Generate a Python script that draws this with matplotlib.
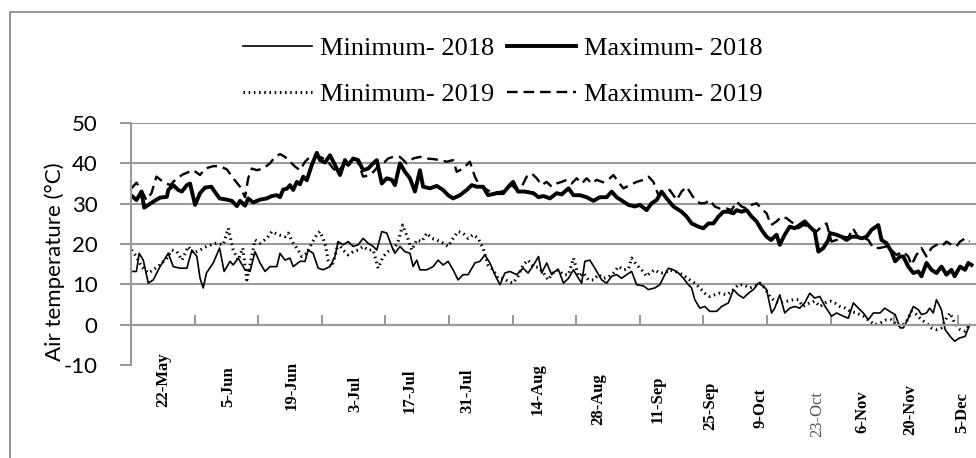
import matplotlib
matplotlib.use('Agg')
import matplotlib.pyplot as plt
import matplotlib.transforms as mtransforms
from matplotlib.patches import Rectangle
from matplotlib.ticker import MultipleLocator

plt.rcParams['axes.unicode_minus'] = False

# day 0 = 15 May
day_max18 = [0.1, 1.2, 2.3, 2.9, 4.9, 6.4, 7.9, 8.2, 9.3, 10.4, 11.2, 12.3, 13.0, 14.1, 15.2, 16.3, 17.7, 18.4, 19.5, 21.1,
             22.2, 23.3, 24.0, 25.1, 25.8, 26.9, 28.4, 29.9, 31.0, 32.1, 32.8, 33.5, 34.3, 35.0, 35.7, 36.5, 37.2, 37.9, 38.7, 39.8,
             40.9, 41.6, 42.7, 43.8, 44.9, 46.0, 47.1, 47.8, 48.9, 50.0, 51.1, 52.2, 53.3, 54.1, 55.2, 56.3, 57.4, 58.1, 59.2, 60.3,
             61.4, 62.5, 63.6, 64.3, 65.8, 67.3, 68.7, 69.8, 70.9, 72.4, 73.9, 75.0, 76.1, 77.5, 78.6, 80.5, 81.9, 83.4, 84.1, 85.2,
             86.7, 88.6, 89.7, 90.8, 92.2, 93.7, 94.8, 96.3, 97.4, 98.8, 100.3, 101.8, 103.2, 104.7, 105.8, 106.9, 108.4, 109.5, 110.9, 112.0,
             113.5, 114.6, 115.7, 116.8, 117.9, 119.4, 121.2, 122.3, 123.4, 124.9, 126.0, 127.1, 128.2, 129.3, 130.4, 131.5, 132.6, 133.3, 134.4, 135.5,
             136.6, 137.7, 138.8, 139.9, 140.9, 142.1, 142.8, 143.9, 145.0, 146.1, 147.2, 148.3, 149.4, 150.5, 151.3, 152.4, 153.5, 153.9, 155.3, 156.4,
             157.5, 158.6, 159.7, 160.8, 161.9, 163.0, 164.5, 165.2, 166.3, 167.4, 168.2, 169.3, 170.0, 171.1, 172.2, 173.3, 174.0, 175.1, 176.2, 177.3,
             178.4, 179.5, 180.6, 181.3, 182.5, 183.6, 184.3, 185.0]
max18 = [32.0, 30.9, 33.0, 29.0, 30.5, 31.5, 31.7, 33.4, 34.6, 33.4, 33.0, 34.6, 35.0, 29.7, 32.6, 34.0, 34.2, 33.0, 31.3, 31.0,
         30.7, 29.4, 30.7, 29.5, 31.3, 30.3, 31.0, 31.3, 31.9, 32.1, 31.6, 33.5, 33.7, 34.6, 33.4, 35.4, 34.8, 36.7, 35.8, 39.6,
         42.6, 40.8, 40.2, 42.0, 39.6, 37.1, 40.8, 39.6, 41.2, 40.8, 38.3, 38.7, 40.0, 40.8, 35.0, 36.3, 35.9, 34.6, 40.0, 37.9,
         36.3, 33.0, 38.3, 34.2, 33.8, 34.4, 33.4, 32.1, 31.3, 32.1, 33.4, 34.6, 34.2, 34.2, 32.1, 32.6, 32.6, 34.6, 35.4, 33.0,
         33.0, 32.6, 31.6, 31.9, 31.3, 32.6, 32.3, 33.8, 32.1, 32.1, 31.6, 30.7, 31.6, 31.6, 33.0, 31.6, 30.5, 29.7, 29.3, 29.7,
         28.4, 30.1, 30.9, 33.0, 31.3, 29.3, 28.0, 26.8, 25.1, 24.3, 23.9, 25.1, 25.1, 26.8, 28.0, 28.0, 27.6, 28.4, 28.0, 28.4,
         26.8, 25.6, 23.5, 21.8, 21.0, 22.3, 19.8, 22.3, 24.3, 23.9, 24.7, 25.6, 24.3, 23.1, 18.1, 19.0, 21.0, 22.7, 22.3, 21.8,
         21.0, 21.8, 21.8, 21.4, 21.8, 23.5, 24.7, 21.0, 20.2, 18.1, 15.7, 16.9, 16.9, 14.4, 12.8, 13.2, 12.0, 15.3, 13.6, 12.8,
         14.4, 12.4, 13.6, 12.0, 14.4, 13.6, 15.3, 14.8]

day_max19 = [0.1, 1.2, 2.3, 3.4, 4.5, 5.6, 7.1, 8.6, 10.1, 11.5, 13.7, 15.2, 16.3, 18.1, 19.5, 21.1, 22.5, 24.0, 25.1, 25.8,
             26.6, 27.7, 29.1, 30.6, 31.7, 32.8, 33.9, 35.0, 36.1, 37.2, 38.3, 39.4, 40.5, 41.6, 43.1, 44.5, 45.6, 46.7, 48.2, 49.7,
             51.1, 52.6, 53.7, 54.8, 55.9, 56.6, 57.7, 59.2, 60.7, 62.1, 63.6, 65.1, 66.9, 68.0, 69.5, 70.9, 71.7, 73.1, 74.6, 75.7,
             76.8, 77.9, 79.0, 80.5, 81.6, 82.7, 83.8, 84.9, 86.0, 87.1, 88.2, 89.3, 90.4, 91.5, 92.6, 93.7, 94.8, 95.9, 97.0, 98.1,
             99.2, 100.3, 101.4, 102.5, 103.9, 105.4, 106.2, 107.3, 108.4, 109.8, 111.3, 112.8, 113.9, 115.0, 116.1, 117.2, 118.6, 120.1, 121.2, 122.3,
             123.7, 125.2, 126.3, 127.4, 128.5, 129.6, 131.1, 132.2, 133.3, 134.4, 135.5, 136.6, 137.7, 138.8, 139.9, 140.9, 142.1, 143.2, 144.3, 145.8,
             146.9, 148.0, 149.4, 150.9, 152.0, 153.1, 154.2, 155.3, 156.8, 157.9, 158.9, 160.0, 161.2, 162.3, 163.4, 164.8, 166.3, 167.4, 168.5, 169.9,
             171.1, 171.8, 172.9, 174.0, 175.1, 176.2, 177.3, 178.4, 179.5, 180.6, 181.7, 182.5, 183.6, 184.6]
max19 = [33.8, 35.2, 33.4, 30.9, 32.6, 36.7, 35.4, 34.6, 36.3, 37.3, 38.3, 37.1, 38.7, 39.3, 39.3, 38.5, 36.3, 34.2, 31.6, 36.3,
         38.7, 38.3, 38.7, 40.0, 41.6, 42.3, 41.6, 40.4, 39.2, 38.3, 40.4, 41.6, 42.0, 41.6, 40.8, 38.7, 37.9, 39.6, 40.8, 41.0,
         36.7, 37.1, 38.3, 40.0, 40.4, 41.2, 41.6, 41.6, 40.0, 41.2, 41.6, 41.2, 41.0, 40.8, 40.4, 40.8, 37.9, 38.7, 40.4, 36.7,
         34.2, 33.8, 33.0, 32.8, 33.0, 33.4, 34.6, 33.4, 34.2, 36.7, 37.5, 36.3, 34.6, 35.4, 34.2, 35.0, 35.4, 35.9, 35.0, 36.3,
         35.0, 36.3, 35.0, 35.9, 35.3, 36.3, 37.1, 35.3, 33.8, 34.6, 35.4, 35.9, 36.7, 35.4, 32.1, 32.6, 33.4, 30.9, 33.0, 34.2,
         31.7, 30.1, 30.1, 30.9, 29.3, 28.8, 28.8, 28.4, 30.5, 29.3, 28.8, 29.7, 30.1, 28.8, 27.6, 24.7, 25.6, 26.8, 26.4, 25.1,
         23.9, 24.7, 24.3, 23.1, 24.3, 25.1, 20.6, 21.0, 21.8, 21.6, 23.9, 21.8, 21.6, 21.0, 19.0, 19.0, 19.4, 18.5, 17.3, 18.1,
         16.9, 14.8, 17.3, 19.0, 16.9, 19.0, 19.8, 19.4, 20.6, 19.8, 19.4, 20.6, 21.4, 20.6]

day_min18 = [0.1, 1.2, 1.8, 2.7, 3.8, 4.9, 6.4, 8.2, 9.3, 10.8, 12.3, 13.4, 14.5, 15.2, 15.9, 16.6, 18.1, 19.5, 20.5, 21.8,
             22.5, 23.6, 25.1, 26.2, 27.3, 28.4, 29.5, 30.6, 32.1, 32.8, 33.9, 35.0, 35.7, 37.2, 38.3, 39.0, 40.1, 41.2, 42.3, 43.8,
             44.9, 45.6, 46.7, 47.8, 48.9, 50.0, 51.1, 52.2, 53.3, 54.1, 55.2, 56.3, 57.4, 58.1, 59.2, 60.3, 61.4, 62.1, 62.9, 63.6,
             65.1, 66.5, 67.6, 68.7, 69.8, 70.9, 72.0, 73.1, 74.2, 75.7, 76.8, 77.9, 79.0, 80.1, 81.2, 82.3, 83.4, 84.9, 86.3, 87.4,
             88.6, 89.7, 90.4, 91.5, 92.6, 93.3, 94.1, 95.2, 96.3, 97.4, 98.5, 99.2, 99.9, 101.0, 102.1, 103.6, 104.7, 105.8, 106.9, 108.0,
             109.1, 110.2, 111.3, 112.8, 113.9, 115.3, 116.4, 117.5, 118.3, 119.4, 120.5, 121.6, 122.7, 123.4, 124.1, 125.2, 126.3, 127.4, 128.9, 130.0,
             131.5, 132.6, 133.7, 134.8, 135.9, 137.0, 138.1, 139.2, 139.9, 141.0, 141.7, 142.8, 143.9, 145.0, 146.1, 147.2, 148.3, 149.4, 150.5, 151.6,
             152.8, 154.2, 155.3, 156.8, 157.9, 159.0, 160.1, 161.2, 162.3, 163.4, 164.9, 165.9, 167.0, 168.2, 169.3, 170.0, 171.1, 172.2, 173.3, 174.0,
             175.1, 175.8, 176.6, 177.3, 178.4, 179.2, 180.3, 181.3, 182.4, 183.6, 184.6]
min18 = [13.2, 13.2, 17.7, 16.0, 10.3, 11.1, 14.4, 17.7, 14.4, 14.0, 14.0, 18.5, 16.9, 11.5, 9.1, 12.8, 15.3, 19.0, 13.2, 15.7,
         14.8, 16.5, 13.6, 13.2, 18.1, 15.3, 13.2, 14.4, 14.4, 17.7, 16.0, 16.5, 14.4, 15.7, 15.7, 18.5, 17.7, 14.0, 13.6, 14.4,
         16.9, 20.6, 19.8, 20.6, 19.4, 19.8, 21.4, 20.2, 19.4, 18.5, 23.1, 22.7, 19.4, 17.7, 19.4, 18.1, 17.7, 14.4, 16.0, 13.6,
         13.6, 14.4, 16.0, 14.8, 15.7, 13.6, 11.1, 12.4, 12.4, 15.3, 15.7, 17.3, 15.3, 12.4, 9.9, 12.8, 13.2, 12.4, 14.0, 12.8,
         14.8, 16.9, 12.8, 15.3, 12.4, 13.2, 13.6, 10.3, 11.5, 13.6, 11.5, 10.3, 15.7, 16.0, 14.0, 11.1, 10.3, 12.0, 12.4, 11.5,
         12.4, 13.2, 9.9, 9.6, 8.7, 9.1, 9.9, 12.4, 14.0, 13.6, 12.8, 11.5, 9.9, 9.1, 6.2, 4.1, 4.5, 3.3, 3.3, 4.5,
         5.4, 8.7, 7.4, 6.6, 7.8, 8.7, 10.3, 9.5, 8.7, 2.9, 4.1, 7.4, 2.9, 4.1, 4.5, 4.1, 5.4, 7.8, 6.6, 7.0,
         4.5, 2.1, 2.9, 2.1, 1.6, 5.4, 4.1, 2.9, 1.2, 2.9, 2.9, 4.1, 3.3, 2.5, -0.8, -0.8, 1.6, 4.5, 3.7, 2.5,
         2.9, 4.1, 2.9, 6.2, 3.7, -1.2, -2.9, -4.1, -3.3, -2.9, 0.0]

day_min19 = [0.1, 1.2, 2.3, 3.8, 4.9, 6.4, 7.9, 9.0, 10.1, 11.2, 11.9, 12.6, 13.7, 15.2, 16.6, 18.8, 20.3, 21.4, 22.5, 23.6,
             24.6, 25.5, 26.6, 27.3, 28.4, 29.9, 31.0, 32.4, 33.9, 34.6, 35.7, 36.8, 37.6, 38.7, 39.8, 40.9, 41.6, 42.7, 43.4, 44.2,
             44.9, 45.6, 46.7, 47.8, 48.9, 50.0, 51.1, 52.2, 53.3, 54.4, 55.5, 56.6, 57.7, 58.8, 59.8, 60.8, 61.8, 62.9, 64.0, 65.1,
             66.2, 67.3, 68.7, 69.8, 70.9, 72.0, 73.1, 74.2, 75.3, 76.4, 77.5, 78.6, 79.7, 80.8, 81.9, 83.0, 84.1, 85.2, 86.3, 87.4,
             88.6, 89.7, 90.8, 91.8, 92.9, 94.0, 95.2, 96.3, 97.4, 98.5, 99.6, 100.7, 101.8, 102.9, 104.0, 105.1, 106.2, 107.3, 108.4, 109.5,
             110.2, 111.3, 112.4, 113.5, 114.2, 115.3, 116.4, 117.5, 118.6, 119.7, 120.8, 121.9, 123.0, 124.1, 125.2, 126.3, 127.4, 128.5, 129.6, 131.1,
             132.2, 133.7, 134.8, 136.2, 137.3, 138.4, 139.5, 140.6, 141.7, 142.8, 144.3, 145.8, 146.9, 147.9, 149.4, 150.5, 151.7, 152.8, 153.9, 154.9,
             156.1, 157.2, 158.3, 159.7, 161.2, 162.7, 163.8, 164.9, 166.3, 167.4, 168.5, 169.6, 170.7, 171.8, 172.9, 174.0, 175.1, 176.2, 177.3, 178.4,
             179.5, 180.3, 181.3, 182.5, 183.6, 184.6]
min19 = [18.5, 16.9, 14.4, 12.8, 13.6, 14.8, 16.5, 18.5, 18.1, 16.0, 17.7, 19.4, 17.7, 18.5, 19.4, 20.2, 19.8, 23.9, 18.5, 16.0,
         19.0, 11.1, 16.9, 21.0, 20.2, 21.4, 23.1, 22.3, 21.8, 22.7, 20.2, 18.5, 16.9, 17.7, 20.2, 22.3, 23.1, 20.2, 16.0, 14.4,
         16.9, 20.2, 18.5, 17.3, 18.1, 18.5, 19.4, 18.5, 18.5, 14.0, 16.9, 18.1, 18.5, 20.6, 24.7, 21.8, 18.5, 21.0, 20.6, 22.7,
         21.4, 21.0, 20.2, 19.4, 21.4, 23.1, 22.7, 21.4, 22.3, 21.4, 19.0, 14.8, 13.6, 11.5, 11.5, 10.7, 10.3, 12.0, 14.8, 16.0,
         14.4, 14.2, 12.8, 11.1, 12.8, 13.6, 12.4, 12.4, 16.5, 12.0, 12.8, 11.1, 11.1, 12.4, 11.5, 11.8, 12.8, 14.4, 13.6, 13.8,
         16.5, 14.8, 13.6, 12.0, 12.8, 13.6, 12.8, 12.8, 13.6, 13.2, 12.8, 12.0, 11.1, 10.3, 9.1, 7.8, 7.0, 7.4, 7.8, 7.4,
         8.2, 9.9, 9.9, 9.1, 9.5, 10.3, 9.1, 7.0, 5.8, 5.4, 5.8, 6.2, 6.2, 4.5, 5.4, 5.8, 4.5, 5.4, 5.8, 5.4,
         4.5, 4.1, 3.3, 2.9, 2.1, 0.8, 0.0, 0.4, 1.2, 1.2, 0.0, -0.4, 0.8, 3.3, 2.5, 1.2, 0.4, -0.8, -1.2, -0.8,
         1.6, 2.9, 0.4, -1.2, -1.6, 0.0]

date_labels = ['22-May', '5-Jun', '19-Jun', '3-Jul', '17-Jul', '31-Jul', '14-Aug', '28-Aug',
               '11-Sep', '25-Sep', '9-Oct', '23-Oct', '6-Nov', '20-Nov', '5-Dec']
label_days = [7.0, 21.4, 35.4, 49.3, 61.4, 74.0, 89.6, 102.8, 116.0, 127.4, 138.5, 151.0, 160.9, 171.5, 182.9]
label_bottom_px = [407, 407, 410, 412, 413, 413, 415, 425, 423, 430, 428, 437, 433, 435, 433]

W, H = 976, 458
fig = plt.figure(figsize=(W / 100, H / 100), dpi=100)
ax = fig.add_axes([131 / W, 1 - 365 / H, (W - 131) / W, (365 - 123) / H])

ax.plot(day_min18, min18, color='black', lw=1.2, label='Minimum- 2018')
ax.plot(day_min19, min19, color='black', lw=2.2, linestyle=(0, (0.5, 1.2)), label='Minimum- 2019')
ax.plot(day_max18, max18, color='black', lw=2.8, label='Maximum- 2018')
ax.plot(day_max19, max19, color='black', lw=1.7, linestyle=(0, (4.5, 2.5)), label='Maximum- 2019')

grey = '#9a9a9a'
ax.set_xlim(0, (W - 131) / 4.543)
ax.set_ylim(-10, 50)
ax.set_yticks(range(-10, 51, 10))
ax.yaxis.grid(True, color=grey, lw=1.5)
ax.set_axisbelow(True)
for s in ['top', 'right']:
    ax.spines[s].set_visible(False)
ax.spines['left'].set_color(grey)
ax.spines['left'].set_linewidth(1.5)
ax.spines['bottom'].set_position(('data', 0))
ax.spines['bottom'].set_color(grey)
ax.spines['bottom'].set_linewidth(1.5)
ax.xaxis.set_major_locator(MultipleLocator(14))
ax.tick_params(axis='x', direction='in', length=7, width=1.5, color=grey, labelbottom=False)
ax.tick_params(axis='y', direction='out', length=8, width=1.5, color=grey, pad=16,
               labelsize=16)
for t in ax.get_yticklabels():
    t.set_fontfamily('Lato')
ax.yaxis.get_gridlines()[0].set_visible(False)

# date labels sit at uneven heights in the original
trans = mtransforms.blended_transform_factory(ax.transData, fig.transFigure)
for lab, d, py in zip(date_labels, label_days, label_bottom_px):
    col = '#555555' if lab == '23-Oct' else 'black'
    wt = 'normal' if lab == '23-Oct' else 'bold'
    ax.text(d, 1 - py / H, lab, transform=trans, rotation=90, ha='center', va='bottom',
            fontsize=12, fontweight=wt, family='Liberation Serif', color=col)

fig.text(55 / W, 1 - 262 / H, 'Air temperature (°C)', rotation=90, ha='center', va='center',
         fontsize=16, family='Lato')

fig.legend(loc='center', bbox_to_anchor=(503 / W, 1 - 71.5 / H), ncol=2, frameon=False,
           prop={'family': 'Liberation Serif', 'size': 19}, handlelength=2.6, handletextpad=0.3,
           columnspacing=0.5, labelspacing=0.85)

fig.patches.append(Rectangle((10 / W, -0.1), 1.0, 1.1 - 12 / H, transform=fig.transFigure,
                             fill=False, edgecolor='#8c8c8c', lw=1.3))

plt.savefig('out.png', dpi=100)
